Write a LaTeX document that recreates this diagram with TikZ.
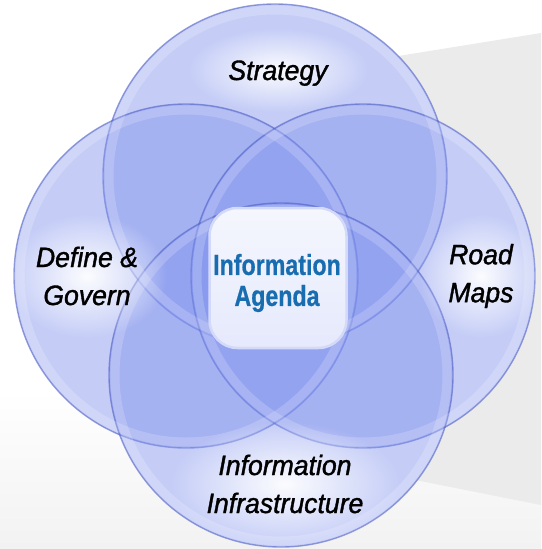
\documentclass[tikz,border=0pt]{standalone}
\usepackage{fontspec}
\setmainfont{Liberation Sans}
\newfontfamily\labelfont[FakeStretch=0.95, FakeBold=1.3]{Liberation Sans}
\newfontfamily\agendafont[FakeStretch=0.8, FakeBold=0.6]{Liberation Sans}
\usetikzlibrary{positioning, shapes, fadings, calc}
\definecolor{RingBlue}{RGB}{128, 146, 238}
\definecolor{RingEdge}{RGB}{80, 96, 196}
\definecolor{AgendaBlue}{RGB}{24, 108, 176}
\definecolor{WallGrey}{RGB}{235, 235, 235}
\definecolor{FloorGrey}{RGB}{242, 242, 242}
\tikzfading[name=softglow, inner color=transparent!0, outer color=transparent!100]

\begin{document}
\begin{tikzpicture}[x=1pt, y=-1pt,
    ring/.style={circle, minimum size=344pt, inner sep=0pt, fill=RingBlue, fill opacity=0.45, draw=RingEdge, draw opacity=0.6, line width=1.4pt},
    rim/.style={white, draw opacity=0.18, line width=9pt},
    glow/.style={white, path fading=softglow, fill opacity=0.95},
    ringlabel/.style={font=\labelfont\itshape\fontsize{28}{38}\selectfont, align=center, text=black, inner sep=0pt}]

    \useasboundingbox (0,0) rectangle (541,549);
    \fill[white] (0,0) rectangle (541,549);
    \shade[top color=white, bottom color=FloorGrey] (0,390) rectangle (541,549);
    \fill[WallGrey] (380,59) -- (541,33) -- (541,505) -- (380,473) -- cycle;

    \coordinate (pstrat) at (275,176);
    \coordinate (pdefine) at (186,276);
    \coordinate (proad) at (363,276);
    \coordinate (pinfra) at (281,375);
    \foreach \p in {pstrat, pdefine, proad, pinfra}
        \fill[white] (\p) circle [radius=172];

    \node[ring] (cstrat) at (pstrat) {};
    \node[ring] (cdefine) at (pdefine) {};
    \node[ring] (croad) at (proad) {};
    \node[ring] (cinfra) at (pinfra) {};
    \foreach \c in {cstrat, cdefine, croad, cinfra}
        \draw[rim] (\c.center) circle [radius=166];

    \fill[glow] (278,70) ellipse (90 and 42);
    \fill[glow] (87,276) ellipse (80 and 62);
    \fill[glow] (481,276) ellipse (62 and 62);
    \fill[glow] (285,484) ellipse (115 and 62);

    \node[rectangle, rounded corners=28pt, minimum width=137pt, minimum height=140pt, top color=white!92!RingBlue, bottom color=white!80!RingBlue, draw=white!65!RingBlue, line width=2.5pt] (agendabox) at (278,278) {};
    \node[font=\agendafont\bfseries\fontsize{29}{31}\selectfont, align=center, text=AgendaBlue, inner sep=0pt] (agenda) at (277,283) {Information\\Agenda};

    \node[ringlabel, anchor=base] (strat) at (278,80) {Strategy};
    \node[ringlabel] (define) at (87,276) {Define \&\\Govern};
    \node[ringlabel] (road) at (481,276) {Road\\Maps};
    \node[ringlabel] (infra) at (285,484) {Information\\Infrastructure};
\end{tikzpicture}
\end{document}
